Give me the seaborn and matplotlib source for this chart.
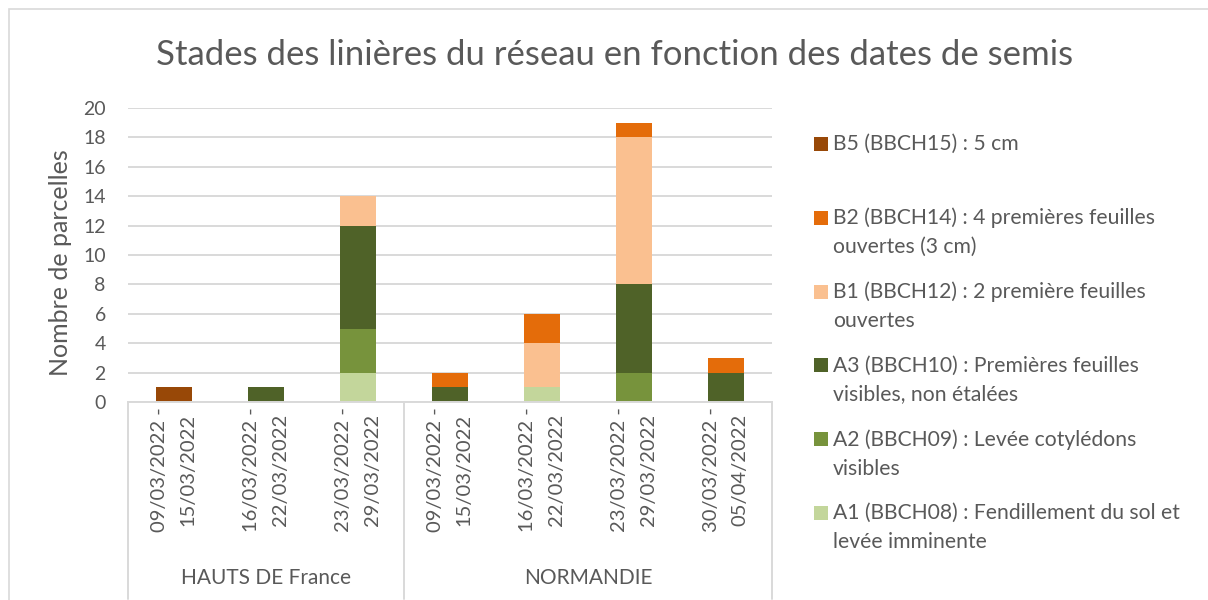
import numpy as np
import matplotlib
matplotlib.use('Agg')
import matplotlib.pyplot as plt
from matplotlib.patches import Rectangle
import seaborn as sns

# données
regions = ['HAUTS DE France', 'NORMANDIE']
periodes = ['09/03/2022 -\n15/03/2022', '16/03/2022 -\n22/03/2022', '23/03/2022 -\n29/03/2022',
            '09/03/2022 -\n15/03/2022', '16/03/2022 -\n22/03/2022', '23/03/2022 -\n29/03/2022',
            '30/03/2022 -\n05/04/2022']
n_par_region = [3, 4]

a1 = [0, 0, 2, 0, 1, 0, 0]
a2 = [0, 0, 3, 0, 0, 2, 0]
a3 = [0, 1, 7, 1, 0, 6, 2]
b1 = [0, 0, 2, 0, 3, 10, 0]
b2 = [0, 0, 0, 1, 2, 1, 1]
b5 = [1, 0, 0, 0, 0, 0, 0]

stades = ['A1 (BBCH08) : Fendillement du sol et\nlevée imminente',
          'A2 (BBCH09) : Levée cotylédons\nvisibles',
          'A3 (BBCH10) : Premières feuilles\nvisibles, non étalées',
          'B1 (BBCH12) : 2 première feuilles\nouvertes',
          'B2 (BBCH14) : 4 premières feuilles\nouvertes (3 cm)',
          'B5 (BBCH15) : 5 cm']
couleurs = ['#C3D69B', '#77933C', '#4F6228', '#FAC090', '#E46C0A', '#984807']

sns.set_style('white')
plt.rcParams['font.family'] = ['Lato', 'DejaVu Sans']
gris = '#595959'

fig = plt.figure(figsize=(12.08, 6), dpi=100)
ax = fig.add_axes([128 / 1208, 1 - 402 / 600, 644 / 1208, 294 / 600])

# empilement : on trace les cumuls du plus haut au plus bas
series = np.array([a1, a2, a3, b1, b2, b5])
cumul = series.cumsum(axis=0)
pos = np.arange(len(periodes))
for i in range(len(series) - 1, -1, -1):
    sns.barplot(x=pos, y=cumul[i], color=couleurs[i], width=0.4, saturation=1,
                linewidth=0, ax=ax)

ax.set_xlim(-0.5, 6.5)
ax.set_ylim(0, 20)
ax.set_yticks(range(0, 21, 2))
ax.yaxis.grid(True, color='#D9D9D9', linewidth=1.4)
ax.set_axisbelow(True)
for s in ['top', 'right', 'left']:
    ax.spines[s].set_visible(False)
ax.spines['bottom'].set_color('#D9D9D9')
ax.spines['bottom'].set_linewidth(1.4)
ax.set_xlabel('')
ax.set_ylabel('')
ax.set_xticks(pos)
ax.set_xticklabels(periodes, rotation=90, ha='center', va='top', linespacing=1.8)
ax.tick_params(axis='x', length=0, pad=4, labelsize=14.5, labelcolor=gris)
ax.tick_params(axis='y', length=0, pad=16, labelsize=14, labelcolor=gris)

# séparateurs des régions
bornes = np.concatenate([[0], np.cumsum(n_par_region)]) - 0.5
for b in bornes:
    ax.plot([b, b], [0, -13.4], color='#D9D9D9', linewidth=1.4, clip_on=False)
for k, r in enumerate(regions):
    ax.text((bornes[k] + bornes[k + 1]) / 2, -12.0, r, ha='center', va='center',
            fontsize=15, color=gris)

fig.text(61 / 1208, 0.562, 'Nombre de parcelles', rotation=90, ha='center', va='center',
         fontsize=18, color=gris)
fig.text(0.509, 0.908, 'Stades des linières du réseau en fonction des dates de semis',
         ha='center', va='center', fontsize=25, color=gris)

# légende (ordre inverse de l'empilement)
y0 = 144
for j, i in enumerate(range(len(stades) - 1, -1, -1)):
    yc = y0 + j * 73.8
    fig.add_artist(Rectangle((814 / 1208, 1 - (yc + 7) / 600), 14 / 1208, 14 / 600,
                             transform=fig.transFigure, color=couleurs[i], linewidth=0))
    fig.text(833 / 1208, 1 - (yc - 10) / 600, stades[i], ha='left', va='top',
             fontsize=15.2, color=gris, linespacing=1.55)

# cadre du graphique
fig.add_artist(Rectangle((9 / 1208, -0.1), 1.2, 1 - 9 / 600 + 0.1, transform=fig.transFigure,
                         fill=False, edgecolor='#D9D9D9', linewidth=1.2))

fig.savefig('out.png', dpi=100)
